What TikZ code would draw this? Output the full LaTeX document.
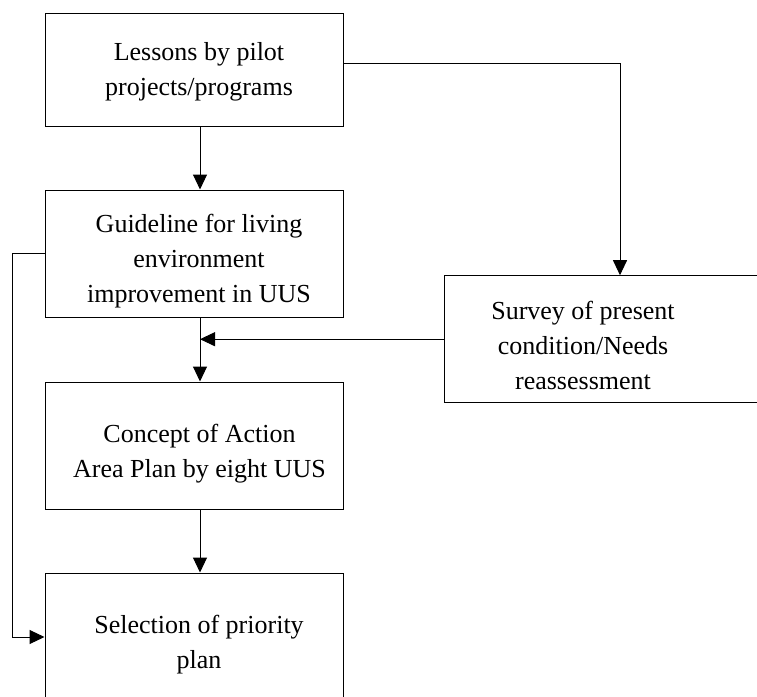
\documentclass[tikz,border=0pt]{standalone}
\usepackage{fontspec}
\setmainfont{Liberation Serif}
\usetikzlibrary{arrows.meta}
\tikzset{
  box/.style={draw, line width=1pt, rectangle, inner sep=0pt},
  txt/.style={align=center, inner sep=0pt, font=\fontsize{26}{35}\selectfont},
  arr/.style={line width=1pt, -{Triangle[length=15pt,width=14pt]}}
}
\begin{document}
\begin{tikzpicture}[x=1pt,y=-1pt]
\useasboundingbox (0,0) rectangle (757,696);
\clip (0,0) rectangle (757,696);
\fill[white] (0,0) rectangle (757,696);
% boxes
\node[box, minimum width=298pt, minimum height=113pt] (b1) at (194,69.5) {};
\node[box, minimum width=298pt, minimum height=127pt] (b2) at (194,253.5) {};
\node[box, minimum width=352pt, minimum height=127pt] (b3) at (620,339.2) {};
\node[box, minimum width=298pt, minimum height=127pt] (b4) at (194,445.5) {};
\node[box, minimum width=298pt, minimum height=128pt] (b5) at (194,637) {};
% texts
\node[txt] (t1) at (199,71.5) {Lessons by pilot\\projects/programs};
\node[txt] (t2) at (199,261) {Guideline for living\\environment\\improvement in UUS};
\node[txt] (t3) at (583,345) {Survey of present\\condition/Needs\\reassessment};
\node[txt] (t4) at (199.5,453.3) {Concept of Action\\Area Plan by eight UUS};
\node[txt] (t5) at (199,644.3) {Selection of priority\\plan};
% connectors
\coordinate (m) at ([xshift=6pt]b2.south);
\draw[arr] ([xshift=6pt]b1.south) -- ([xshift=6pt]b2.north);
\draw[arr] ([xshift=6pt]b2.south) -- ([xshift=6pt]b4.north);
\draw[arr] (b3.west) -- (b3.west -| m);
\draw[arr] ([xshift=6pt]b4.south) -- ([xshift=6pt]b5.north);
\draw[arr] ([yshift=6.5pt]b1.east) -| (b3.north);
\draw[arr] (b2.west) -- ++(-32,0) |- (b5.west);
\end{tikzpicture}
\end{document}
